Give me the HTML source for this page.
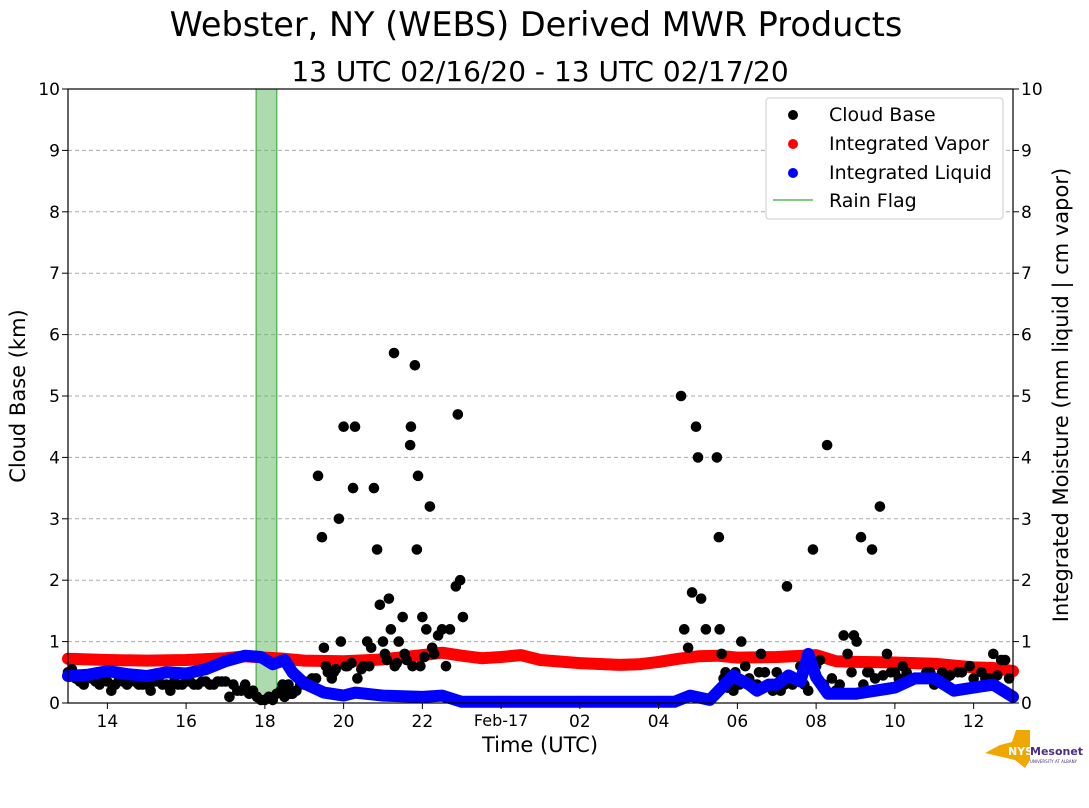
<!DOCTYPE html>
<html><head><meta charset="utf-8"><style>
body{margin:0;background:#fff;font-family:"DejaVu Sans","Liberation Sans",sans-serif}
svg text{font-family:"DejaVu Sans","Liberation Sans",sans-serif}
</style></head><body>
<svg id="chart" width="1089" height="804" xmlns="http://www.w3.org/2000/svg">
<text x="536" y="36" font-size="33.5" text-anchor="middle">Webster, NY (WEBS) Derived MWR Products</text>
<text x="540" y="81" font-size="28" text-anchor="middle">13 UTC 02/16/20 - 13 UTC 02/17/20</text>
<g id="grid"></g>
<g id="rain"></g>
<g id="series"></g>
<rect x="68" y="89" width="945" height="614" fill="none" stroke="#000" stroke-width="1.2"/>
<g id="axes"></g>
<text x="540" y="752" font-size="21" text-anchor="middle">Time (UTC)</text>
<text transform="translate(25,396) rotate(-90)" font-size="21" text-anchor="middle">Cloud Base (km)</text>
<text transform="translate(1068,395) rotate(-90)" font-size="21" text-anchor="middle">Integrated Moisture (mm liquid | cm vapor)</text>
<g>
<rect x="766" y="98" width="237" height="121" fill="#fff" stroke="#ccc" rx="3"/>
<g><circle cx="793" cy="115" r="5" fill="#000"/><text x="829" y="121" font-size="19">Cloud Base</text></g>
<g><circle cx="793" cy="144" r="5" fill="red"/><text x="829" y="150" font-size="19">Integrated Vapor</text></g>
<g><circle cx="793" cy="173" r="5" fill="blue"/><text x="829" y="179" font-size="19">Integrated Liquid</text></g>
<g><line x1="773" x2="813" y1="200" y2="200" stroke="#5cb85c" stroke-width="1.5"/><text x="829" y="207" font-size="19">Rain Flag</text></g>
</g>
<g>
<path d="M985 753 L1000 745 L1012 742 L1016 730 L1030 730 L1030 760 L1025 768 L1015 760 L998 756 Z" fill="#f0a800"/>
<text x="1008" y="755" font-size="11" font-weight="bold" fill="#fff">NYS</text>
<text x="1030" y="755" font-size="11" font-weight="bold" fill="#4b2e83">Mesonet</text>
<text x="1030" y="763" font-size="4" fill="#4b2e83">UNIVERSITY AT ALBANY</text>
</g>
</svg>
<script>
const xTickHours=[14,16,18,20,22,24,26,28,30,32,34,36];
const xTickLabels=['14','16','18','20','22','Feb-17','02','04','06','08','10','12'];
const yTicks=[0,1,2,3,4,5,6,7,8,9,10];
const rainStart=17.78, rainEnd=18.3;
const cloudHours=[
13,13.2,13.4,13.5,13.7,13.9,14.1,14.2,14.4,14.6,
14.8,15,15.1,15.3,15.5,15.6,15.8,16,16.2,16.4,
16.6,16.8,17,17.1,17.2,17.4,17.5,17.6,17.7,17.8,
17.9,18,18.1,18.2,18.3,18.4,18.5,18.6,18.7,18.8,
19,19.1,19.2,19.35,19.45,19.5,19.6,19.7,19.8,19.88,
19.93,20,20.1,20.24,20.29,20.35,20.5,20.6,20.7,20.77,
20.85,20.92,21,21.05,21.15,21.2,21.28,21.3,21.4,21.5,
21.6,21.69,21.71,21.81,21.86,21.89,21.95,22,22.1,22.19,
22.3,22.4,22.5,22.6,22.7,22.85,22.9,22.96,23.03,28.57,
28.65,28.75,28.85,28.95,29,29.08,29.2,29.48,29.53,29.55,
29.6,29.7,29.8,29.9,30.1,30.2,30.4,30.6,30.8,31,
31.1,31.26,31.4,31.6,31.8,31.92,32.1,32.28,32.4,32.6,
32.7,32.8,32.96,33.03,33.14,33.3,33.42,33.5,33.62,33.8,
34,34.2,34.5,34.8,35,35.3,35.6,35.9,36.2,36.5,
36.7,36.9];
const cloudKm=[
0.5,0.4,0.3,0.45,0.35,0.4,0.2,0.3,0.35,0.4,
0.3,0.3,0.2,0.35,0.3,0.2,0.3,0.35,0.3,0.35,
0.3,0.35,0.35,0.1,0.3,0.2,0.3,0.15,0.2,0.1,
0.05,0.05,0.1,0.05,0.15,0.2,0.1,0.3,0.15,0.2,
0.3,0.35,0.4,3.7,2.7,0.9,0.5,0.4,0.55,3.0,
1.0,4.5,0.6,3.5,4.5,0.4,0.6,1.0,0.9,3.5,
2.5,1.6,1.0,0.8,1.7,1.2,5.7,0.6,1.0,1.4,
0.7,4.2,4.5,5.5,2.5,3.7,0.6,1.4,1.2,3.2,
0.8,1.1,1.2,0.6,1.2,1.9,4.7,2.0,1.4,5.0,
1.2,0.9,1.8,4.5,4.0,1.7,1.2,4.0,2.7,1.2,
0.8,0.5,0.3,0.2,1.0,0.6,0.3,0.8,0.3,0.5,
0.2,1.9,0.3,0.6,0.2,2.5,0.7,4.2,0.4,0.3,
1.1,0.8,1.1,1.0,2.7,0.5,2.5,0.4,3.2,0.8,
0.5,0.6,0.4,0.5,0.3,0.4,0.5,0.6,0.5,0.8,
0.7,0.4];
const denseHours=[
13.1,13.3,13.6,13.8,14.0,14.3,14.5,14.7,14.9,15.2,
15.4,15.7,15.9,16.1,16.3,16.5,16.7,16.9,17.3,18.45,
18.55,18.65,18.9,19.3,19.55,19.75,20.05,20.2,20.45,20.65,
21.1,21.35,21.55,21.75,22.05,22.25,29.65,29.75,29.95,30.05,
30.3,30.5,30.7,30.9,31.2,31.5,31.7,32.0,32.5,32.9,
33.2,33.7,33.9,34.1,34.3,34.6,34.9,35.1,35.4,35.7,
36.0,36.3,36.6,36.8,31.05,30.55,32.2,33.35,35.2,36.4];
const denseKm=[
0.55,0.35,0.4,0.3,0.35,0.4,0.3,0.35,0.3,0.35,
0.3,0.35,0.3,0.35,0.3,0.35,0.3,0.35,0.2,0.3,
0.25,0.15,0.3,0.4,0.6,0.5,0.6,0.65,0.55,0.6,
0.7,0.65,0.8,0.6,0.75,0.9,0.4,0.25,0.5,0.3,
0.4,0.3,0.5,0.2,0.3,0.4,0.3,0.6,0.2,0.5,
0.3,0.45,0.5,0.4,0.5,0.4,0.5,0.4,0.45,0.5,
0.4,0.4,0.45,0.7,0.3,0.5,0.3,0.5,0.5,0.4];
const vaporHours=[13,14,15,16,17,17.5,18,18.5,19,20,21,22,22.5,23,23.5,24,24.5,25,26,27,27.5,28,28.5,29,29.5,30,31,32,32.5,33,34,35,36,36.5,37];
const vaporVals=[0.72,0.70,0.69,0.70,0.73,0.76,0.74,0.72,0.69,0.68,0.71,0.78,0.82,0.77,0.73,0.75,0.78,0.70,0.65,0.62,0.63,0.67,0.72,0.76,0.77,0.74,0.75,0.78,0.68,0.67,0.66,0.64,0.58,0.57,0.52];
const liquidHours=[13,13.5,14,14.5,15,15.5,16,16.5,17,17.5,17.9,18.2,18.5,18.7,19,19.5,20,20.3,21,22,22.5,23,28.4,28.8,29.3,29.6,29.9,30,30.3,30.5,30.8,31,31.3,31.6,31.8,32,32.3,33,34,34.5,35,35.5,36,36.5,37];
const liquidVals=[0.44,0.46,0.52,0.47,0.44,0.5,0.48,0.55,0.68,0.77,0.75,0.63,0.7,0.5,0.32,0.17,0.12,0.17,0.12,0.1,0.12,0.02,0.02,0.12,0.05,0.25,0.45,0.4,0.3,0.2,0.3,0.3,0.45,0.35,0.8,0.42,0.15,0.15,0.25,0.4,0.4,0.2,0.25,0.3,0.1];

const NS='http://www.w3.org/2000/svg';
const X=h=>68+(h-13)*945/24;
const Y=v=>703-v*61.4;
function mk(tag,attrs,parent){const e=document.createElementNS(NS,tag);for(const k in attrs)e.setAttribute(k,attrs[k]);document.getElementById(parent).appendChild(e);return e;}
yTicks.forEach(v=>{
  if(v>0&&v<10){const g=mk('line',{x1:68,x2:1013,y1:Y(v),y2:Y(v),stroke:'#aaa','stroke-dasharray':'4,3'},'grid');
  
  }
  const tl=mk('text',{x:60,y:Y(v)+6,'font-size':17,'text-anchor':'end'},'axes');tl.textContent=v;
  
  
  const tr=mk('text',{x:1021,y:Y(v)+6,'font-size':17},'axes');tr.textContent=v;
  
  
  mk('line',{x1:62,x2:68,y1:Y(v),y2:Y(v),stroke:'#000'},'axes');
  mk('line',{x1:1013,x2:1019,y1:Y(v),y2:Y(v),stroke:'#000'},'axes');
});
xTickHours.forEach((h,i)=>{
  mk('line',{x1:X(h),x2:X(h),y1:703,y2:709,stroke:'#000'},'axes');
  const t=mk('text',{x:X(h),y:i==5?726:727,'font-size':i==5?16:17,'text-anchor':'middle'},'axes');t.textContent=xTickLabels[i];
  
  
});
const rb=mk('rect',{x:X(rainStart),y:89,width:X(rainEnd)-X(rainStart),height:614,fill:'#5cb85c','fill-opacity':0.5},'rain');


[rainStart,rainEnd].forEach(h=>{
  const l=mk('line',{x1:X(h),x2:X(h),y1:89,y2:703,stroke:'#5cb85c','stroke-width':1.5},'rain');
  
  
});
function line(hs,vs,color,name){
  const d=hs.map((h,i)=>(i?'L':'M')+X(h).toFixed(1)+' '+Y(vs[i]).toFixed(1)).join(' ');
  const p=mk('path',{d:d,fill:'none',stroke:color,'stroke-width':12,'stroke-linejoin':'round','stroke-linecap':'round'},'series');
  
  
}
line(vaporHours,vaporVals,'red','integrated-vapor-series');
function dots(hs,ks){
  const n=Math.min(hs.length,ks.length);
  for(let i=0;i<n;i++){
    const c=mk('circle',{cx:X(hs[i]),cy:Y(ks[i]),r:5.3,fill:'#000'},'series');
    
    
  }
}
dots(cloudHours,cloudKm);
dots(denseHours,denseKm);
line(liquidHours,liquidVals,'blue','integrated-liquid-series');
</script>
</body></html>
